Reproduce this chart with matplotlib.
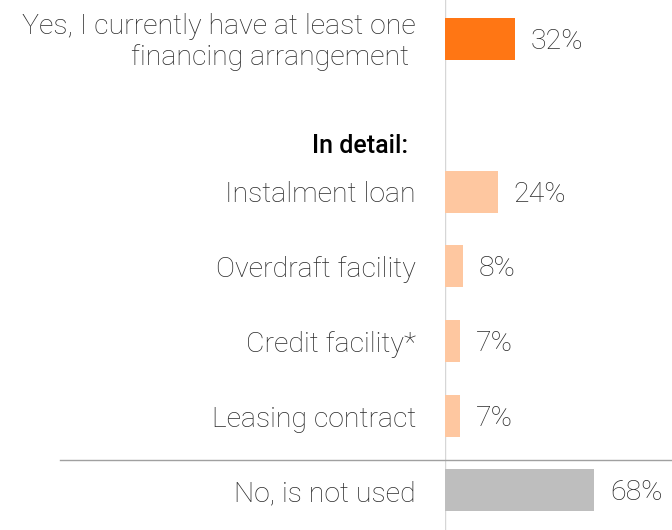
import matplotlib.pyplot as plt

# Financing arrangements survey
labels = ["Yes, I currently have at least one\nfinancing arrangement ",
          "Instalment loan", "Overdraft facility", "Credit facility*",
          "Leasing contract", "No, is not used"]
values = [32, 24, 8, 7, 7, 68]
colors = ["#FF7614", "#FEC7A0", "#FEC7A0", "#FEC7A0", "#FEC7A0", "#BEBEBE"]

# row slots (the empty slot 1 holds the "In detail:" heading)
rows = [0, 2.04, 3.03, 4.03, 5.03, 6.02]

plt.rcParams['font.family'] = ['Roboto', 'DejaVu Sans']

fig = plt.figure(figsize=(6.72, 5.30), dpi=100)
px = 1 / 2.19  # one pixel in percent units
ax = fig.add_axes([445 / 672, 0, 227 / 672, 1])
ax.set_xlim(0, 227 * px)
ax.set_ylim((530 - 39) / 75, -39 / 75)
ax.axis('off')

ax.barh(rows, values, height=0.56, color=colors)
ax.axvline(0, color="#D6D6D6", lw=1, zorder=0)
ax.plot([-385 * px, 227 * px], [5.61, 5.61], color="#A0A0A0", lw=1, clip_on=False)

for r, v, lab in zip(rows, values, labels):
    ax.text(v + 16 * px, r + 0.03, f"{v}%", va='center', ha='left',
            fontsize=20.5, fontweight='light', color="#2b2b2b")
    ax.text(-29 * px, r + 0.04, lab, va='center', ha='right', linespacing=1.22,
            fontsize=20.5, fontweight='light', color="#2b2b2b", clip_on=False)

ax.text(-37 * px, 1.43, "In detail:", va='center', ha='right',
        fontsize=18, fontweight='medium', color="black")

fig.savefig("out.png", dpi=100)
